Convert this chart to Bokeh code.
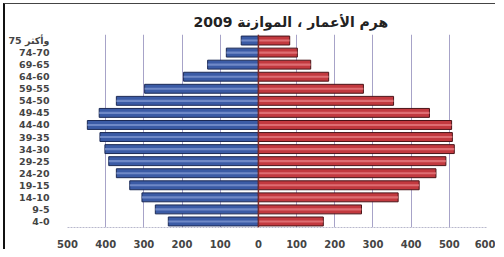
from bokeh.plotting import figure
from bokeh.models import FactorRange, Range1d, FixedTicker, ColumnDataSource, Span
from bokeh.embed import file_html
from bokeh.resources import INLINE

# categories from top to bottom
age_groups = ["وأكثر 75", "74-70", "69-65", "64-60", "59-55", "54-50", "49-45", "44-40",
              "39-35", "34-30", "29-25", "24-20", "19-15", "14-10", "9-5", "4-0"]
males = [45, 84, 133, 196, 298, 372, 417, 448, 415, 402, 392, 372, 337, 305, 270, 236]
females = [82, 102, 137, 184, 275, 354, 448, 506, 508, 513, 491, 465, 421, 366, 270, 170]
tick_values = [-500, -400, -300, -200, -100, 0, 100, 200, 300, 400, 500, 600]
tick_labels = ["500", "400", "300", "200", "100", "0", "100", "200", "300", "400", "500", "600"]
title_text = "هرم الأعمار ، الموازنة 2009"

factors = list(reversed(age_groups))
src = ColumnDataSource(dict(
    age=age_groups,
    male_neg=[-m for m in males],
    female=females,
    zero=[0] * len(age_groups),
))

p = figure(width=492, height=246, y_range=FactorRange(*factors, range_padding=0.0),
           x_range=Range1d(-500, 600), output_backend="svg", toolbar_location=None,
           min_border_left=62, min_border_right=10, min_border_top=30, min_border_bottom=22)
p.styles = {"margin-left": "3px", "margin-top": "3px",
            "border-left": "2px solid #111111", "border-top": "1px solid #444444"}

p.title.text = title_text
p.title.align = "left"
p.title.text_font = "DejaVu Sans"
p.title.text_font_size = "14px"
p.title.text_font_style = "bold"
p.title.text_color = "#222222"
p.title.offset = 126
p.title.standoff = 9

# bars
p.hbar(y="age", left="male_neg", right="zero", height=0.74, source=src,
       fill_color="#3b5ba5", line_color="#1c2a55", line_width=1)
p.hbar(y="age", left="zero", right="female", height=0.74, source=src,
       fill_color="#c2393f", line_color="#4a1418", line_width=1)
# highlights for a shaded look
p.hbar(y="age", left="male_neg", right="zero", height=0.18, source=src,
       fill_color="#7d95cf", line_color=None, fill_alpha=0.8)
p.hbar(y="age", left="zero", right="female", height=0.18, source=src,
       fill_color="#e57a7f", line_color=None, fill_alpha=0.8)

p.add_layout(Span(location=0, dimension="height", line_color="#7a2a2a", line_width=1.5))

p.xaxis.ticker = FixedTicker(ticks=tick_values)
p.xaxis.major_label_overrides = {v: l for v, l in zip(tick_values, tick_labels)}
p.xaxis.axis_line_color = "#b8b8cc"
p.xaxis.axis_line_dash = "2 1"
p.xaxis.major_tick_line_color = None
p.xaxis.minor_tick_line_color = None
p.xaxis.major_label_text_font = "DejaVu Sans"
p.xaxis.major_label_text_font_size = "10px"
p.xaxis.major_label_text_font_style = "bold"
p.xaxis.major_label_text_color = "#444444"
p.xaxis.major_label_standoff = 6

p.yaxis.axis_line_color = None
p.yaxis.major_tick_line_color = None
p.yaxis.minor_tick_line_color = None
p.yaxis.major_label_text_font = "DejaVu Sans"
p.yaxis.major_label_text_font_size = "9.5px"
p.yaxis.major_label_text_font_style = "bold"
p.yaxis.major_label_text_color = "#444444"
p.yaxis.major_label_standoff = 12

p.ygrid.grid_line_color = None
p.xgrid.grid_line_color = "#a7a3c8"
p.xgrid.grid_line_width = 1
p.outline_line_color = None
p.background_fill_color = "white"
p.border_fill_color = "white"

open("out.html", "w").write(file_html(p, INLINE))
